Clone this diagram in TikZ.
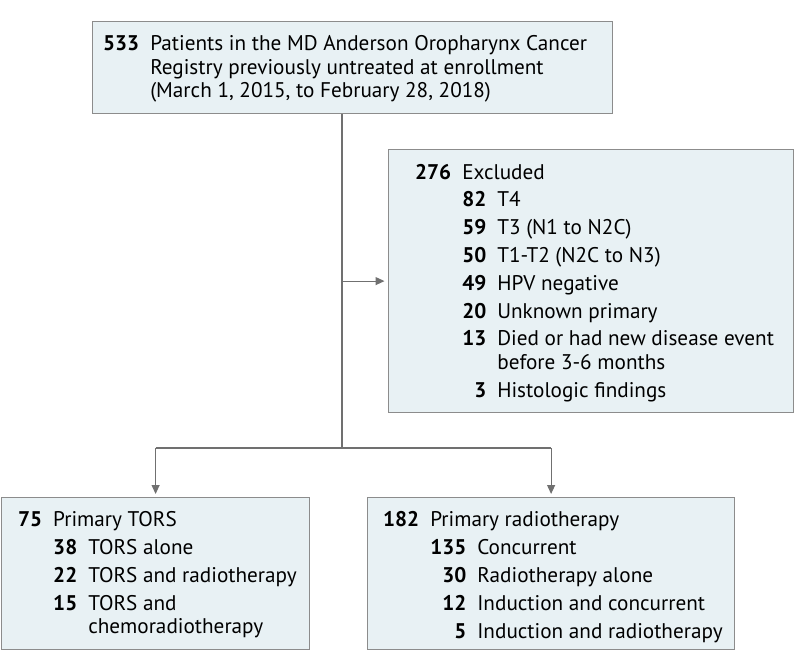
\documentclass[tikz,border=0pt]{standalone}
\usepackage{fontspec}
\setmainfont{PT Sans}
\usetikzlibrary{arrows.meta}
\definecolor{boxfill}{HTML}{E8F1F4}
\definecolor{boxline}{HTML}{8C8C8C}
\definecolor{connline}{HTML}{707070}
\newcommand{\nb}[1]{\textbf{#1}}
\begin{document}
\begin{tikzpicture}[x=1pt,y=-1pt,
  box/.style={draw=boxline, fill=boxfill, line width=1.2pt, rectangle, inner sep=0pt, anchor=north west},
  txt/.style={anchor=base west, inner sep=0pt, font=\fontsize{21.2}{23.5}\selectfont},
  conn/.style={draw=connline, line width=1.1pt},
  arr/.style={conn, -{Triangle[length=9pt,width=8pt]}, shorten >=3pt}
]
\useasboundingbox (0,0) rectangle (794,671);
% boxes
\node[box, minimum width=520pt, minimum height=92pt] (top) at (92,21) {};
\node[box, minimum width=405pt, minimum height=263pt] (excl) at (387.5,149) {};
\node[box, minimum width=308pt, minimum height=152pt] (left) at (1,497) {};
\node[box, minimum width=367pt, minimum height=152pt] (right) at (367,497) {};
% texts
\node[txt] (toptxt) at (103,51) {\begin{tabular}[t]{@{}r@{\hspace{11pt}}l@{}}
\nb{533} & Patients in the MD Anderson Oropharynx Cancer\\
 & Registry previously untreated at enrollment\\
 & (March 1, 2015, to February 28, 2018)
\end{tabular}};
\node[txt] (excltxt) at (415,179) {\begin{tabular}[t]{@{}r@{\hspace{11pt}}r@{\hspace{11pt}}l@{}}
\nb{276} & \multicolumn{2}{@{}l@{}}{Excluded}\\[4.3pt]
 & \nb{82} & T4\\[4.3pt]
 & \nb{59} & T3 (N1 to N2C)\\[4.3pt]
 & \nb{50} & T1-T2 (N2C to N3)\\[4.3pt]
 & \nb{49} & HPV negative\\[4.3pt]
 & \nb{20} & Unknown primary\\[4.3pt]
 & \nb{13} & Died or had new disease event\\
 & & before 3-6 months\\[4.3pt]
 & \nb{3} & Histologic findings
\end{tabular}};
\node[txt] (lefttxt) at (18,526) {\begin{tabular}[t]{@{}r@{\hspace{11pt}}r@{\hspace{11pt}}l@{}}
\nb{75} & \multicolumn{2}{@{}l@{}}{Primary TORS}\\[4.5pt]
 & \nb{38} & TORS alone\\[4.5pt]
 & \nb{22} & TORS and radiotherapy\\[4.5pt]
 & \nb{15} & TORS and\\
 & & chemoradiotherapy
\end{tabular}};
\node[txt] (righttxt) at (383,526) {\begin{tabular}[t]{@{}r@{\hspace{11pt}}r@{\hspace{11pt}}l@{}}
\nb{182} & \multicolumn{2}{@{}l@{}}{Primary radiotherapy}\\[4.5pt]
 & \nb{135} & Concurrent\\[4.5pt]
 & \nb{30} & Radiotherapy alone\\[4.5pt]
 & \nb{12} & Induction and concurrent\\[4.5pt]
 & \nb{5} & Induction and radiotherapy
\end{tabular}};
% connectors
\coordinate (split) at (342,448);
\coordinate (lbend) at (left.north |- split);
\coordinate (rbend) at (right.north |- split);
\draw[conn] (top.south -| split) -- (split);
\draw[arr] (excl.west -| split) -- (excl.west);
\draw[conn] (lbend) -- (rbend);
\draw[arr] (lbend) -- (left.north);
\draw[arr] (rbend) -- (right.north);
\end{tikzpicture}
\end{document}
